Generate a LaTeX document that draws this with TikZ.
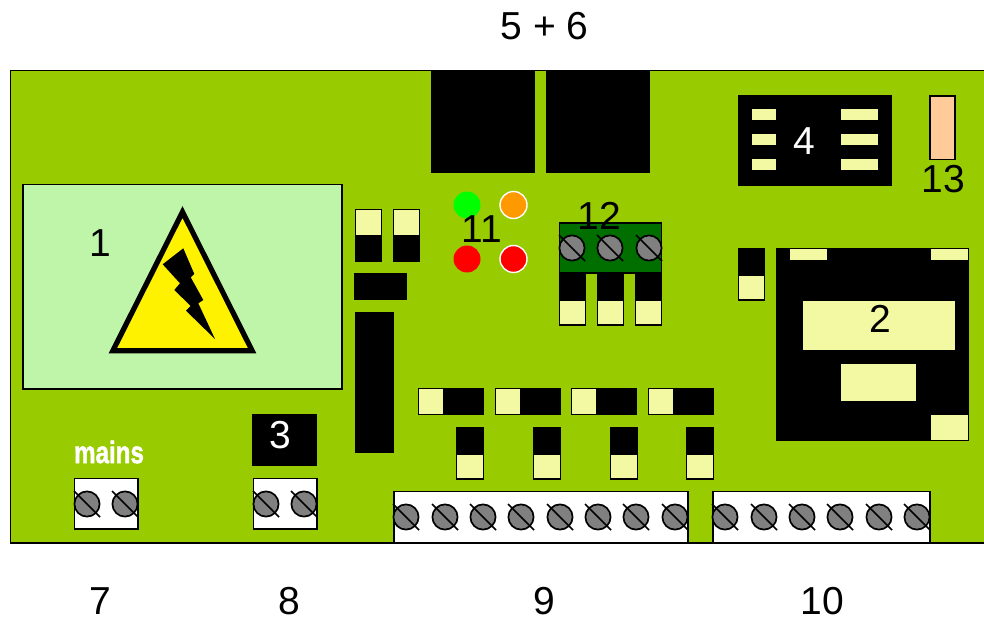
\documentclass[tikz,border=0pt]{standalone}
\usepackage{fontspec}
\setmainfont{Liberation Sans}
\usepackage{graphicx}
\usepackage{xcolor}
\definecolor{boardgreen}{HTML}{99CC00}
\definecolor{palegreen}{HTML}{BFF5A8}
\definecolor{padyellow}{HTML}{F3F8A3}
\definecolor{darkblock}{HTML}{006F00}
\definecolor{fusepeach}{HTML}{FFCC99}
\definecolor{ledorange}{HTML}{FF9900}
\newcommand{\screwat}[2]{%
  \draw[screwhead] (#1,#2) circle (12.6);
  \draw[screwhead] (#1-13,#2-13) -- (#1+13,#2+13);
}
\begin{document}
\begin{tikzpicture}[
    x=1pt, y=-1pt,
    every node/.style={font=\fontsize{39}{40}\selectfont, inner sep=0pt},
    board/.style={draw=black, line width=1.2pt, fill=boardgreen},
    part/.style={fill=black},
    pad/.style={draw=black, line width=1.2pt, fill=padyellow},
    flatpad/.style={fill=padyellow},
    terminal/.style={draw=black, line width=1.2pt, fill=white},
    screwhead/.style={draw=black, line width=1.7pt, fill=black!50},
    led/.style={line width=1.4pt}
]

\clip (0,0) rectangle (984,620);
\fill[white] (0,0) rectangle (984,620);
\draw[board] (10.5,70.5) rectangle (1000,543);

\draw[board, fill=palegreen] (23,184.5) rectangle (342,389);
\draw[line width=5.2pt, line join=miter, fill=yellow] (182.5,212) -- (112.8,350.8) -- (252.2,350.8) -- cycle;
\fill (183.3,248.3) -- (194.3,274) -- (190.7,277.3) -- (203.3,300) -- (198.3,303.3) -- (215,339) -- (186,310.7) -- (190.7,306) -- (174.3,290) -- (180,283.3) -- (162.7,264.3) -- cycle;

\fill[part] (431,70) rectangle (535,173);
\fill[part] (546,70) rectangle (650,173);

\fill[part] (738,95) rectangle (892,186);
\foreach \y in {109,134,159} {
  \fill[flatpad] (752,\y) rectangle (776,\y+11);
  \fill[flatpad] (841,\y) rectangle (878,\y+11);
}
\draw[black, line width=1.2pt, fill=fusepeach] (930,96) rectangle (955,159.5);

\fill[part] (776,248) rectangle (969,441);
\fill[flatpad] (790,249) rectangle (827,260);
\fill[flatpad] (931,249) rectangle (968,260);
\fill[flatpad] (803,301) rectangle (955,350);
\fill[flatpad] (841,364) rectangle (916,401);
\fill[flatpad] (931,415) rectangle (968,440);

\foreach \x in {355,393} {
  \fill[part] (\x,209) rectangle (\x+27,262);
  \draw[pad] (\x+0.5,209.5) rectangle (\x+26.5,236);
}
\fill[part] (354,273) rectangle (407,300);
\fill[part] (355,312) rectangle (394,453);

\fill[led, green] (467,205) circle (13.5);
\draw[led, white, fill=ledorange] (513.5,205) circle (13.5);
\fill[led, red] (467,259) circle (13.5);
\draw[led, white, fill=red] (513.5,259) circle (13.5);

\draw[black, line width=1.2pt, fill=darkblock] (559.5,223) rectangle (661.5,273);
\foreach \x in {572,610,649} {
  \screwat{\x}{248}
}
\foreach \x in {559,597,635,738} {
  \pgfmathsetmacro{\ytop}{\x==738 ? 248 : 273}
  \fill[part] (\x,\ytop) rectangle (\x+27,\ytop+52);
  \draw[pad] (\x+0.6,\ytop+27) rectangle (\x+26.4,\ytop+52);
}

\foreach \x in {418,495,571,648} {
  \fill[part] (\x,388) rectangle (\x+66,415);
  \draw[pad] (\x+0.6,388.6) rectangle (\x+26,414.4);
}
\foreach \x in {456,533,610,686} {
  \fill[part] (\x,427) rectangle (\x+28,479);
  \draw[pad] (\x+0.6,454) rectangle (\x+27.4,479);
}

\fill[part] (252,414) rectangle (317,466);
\draw[terminal] (74.5,478.5) rectangle (138,529);
\draw[terminal] (253.5,478.5) rectangle (317,529);
\draw[terminal] (394,491.5) rectangle (688,543);
\draw[terminal] (713,491.5) rectangle (930,543);
\foreach \x in {87,125,266,304} {
  \screwat{\x}{504}
}
\foreach \x in {406,445,483,521,560,598,636,675,725,764,802,840,879,917} {
  \screwat{\x}{517}
}

\node (label_mains) at (109,452) {\scalebox{0.78}[1]{\fontsize{31}{32}\selectfont\bfseries\addfontfeature{FakeBold=1.6}\color{white}mains}};
\node (label_one) at (100.5,243) {1};
\node (label_two) at (880.5,319) {2};
\node[text=white] (label_three) at (280.5,435) {3};
\node[text=white] (label_four) at (804,141) {4};
\node (label_five_six) at (544.5,26) {5 + 6};
\node (label_seven) at (100.5,601) {7};
\node (label_eight) at (289.5,601) {8};
\node (label_nine) at (544,601) {9};
\node (label_ten) at (822.5,601) {10};
\node (label_eleven) at (481.5,229) {11};
\node (label_twelve) at (599.5,216) {12};
\node (label_thirteen) at (943.5,179) {13};

\end{tikzpicture}
\end{document}
